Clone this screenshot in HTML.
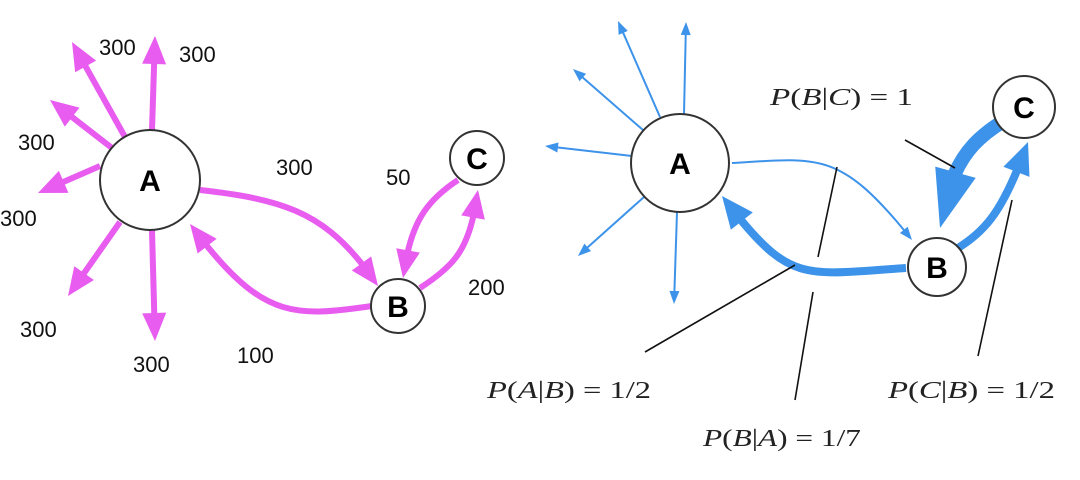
<!DOCTYPE html>
<html><head><meta charset="utf-8"><style>
html,body{margin:0;padding:0;background:#fff;width:1080px;height:480px;overflow:hidden}
svg{display:block}
.n{font-family:"Liberation Sans",sans-serif;font-size:22px;fill:#111}
.L{font-family:"Liberation Sans",sans-serif;font-weight:bold;font-size:30px;fill:#000;text-anchor:middle}
.m{font-family:"Liberation Serif",serif;font-size:24px;fill:#222}
</style></head><body>
<svg id="s" width="1080" height="480" viewBox="0 0 1080 480">
<g id="arrows" fill="none" stroke-linecap="butt">
<g stroke="#e85cf0" stroke-width="6" data-c="#e85cf0">
<path class="a" data-h="28" data-w="12" d="M125,137 L72,42"/>
<path class="a" data-h="28" data-w="12" d="M152,130 L155,36"/>
<path class="a" data-h="28" data-w="12" d="M112,148 L50,100"/>
<path class="a" data-h="28" data-w="12" d="M100,166 L38,193"/>
<path class="a" data-h="28" data-w="12" d="M120,222 L68,296"/>
<path class="a" data-h="28" data-w="12" d="M152,230 L155,341"/>
<path class="a" data-h="28" data-w="12" d="M200,190 C290,200 330,215 378,286"/>
<path class="a" data-h="28" data-w="12" d="M372,306 C290,318 260,318 190,224"/>
<path class="a" data-h="28" data-w="12" d="M458,180 C420,205 410,230 403,278"/>
<path class="a" data-h="28" data-w="12" d="M420,288 C460,262 470,245 478,190"/>
</g>
<g stroke="#3d93ea" data-c="#3d93ea">
<g stroke-width="2">
<path class="a" data-h="13" data-w="5" d="M660,117 L618,21"/>
<path class="a" data-h="13" data-w="5" d="M684,114 L686,22"/>
<path class="a" data-h="13" data-w="5" d="M643,130 L573,69"/>
<path class="a" data-h="13" data-w="5" d="M632,156 L545,146"/>
<path class="a" data-h="13" data-w="5" d="M644,197 L578,256"/>
<path class="a" data-h="13" data-w="5" d="M677,212 L674,304"/>
<path class="a" data-h="13" data-w="5" d="M732,163 C820,158 840,150 912,240"/>
</g>
<path class="a" data-h="32" data-w="14" stroke-width="8" d="M906,268 C800,275 790,285 722,196"/>
<path class="a" data-h="32" data-w="14" stroke-width="8" d="M958,248 C990,228 1005,205 1028,142"/>
<path class="a" data-h="58" data-w="21" stroke-width="14" d="M1002,122 C965,145 950,170 940,228"/>
</g>
</g>
<g fill="#fff" stroke="#333" stroke-width="2">
<circle cx="150" cy="180" r="50"/><circle cx="477" cy="158" r="27"/><circle cx="398" cy="306" r="27"/>
</g>
<text class="L" x="150" y="191">A</text>
<text class="L" x="477" y="169" font-size="26">C</text>
<text class="L" x="398" y="317" font-size="26">B</text>
<g class="n">
<text x="99" y="55">300</text><text x="179" y="62">300</text><text x="18" y="150">300</text>
<text x="0" y="226">300</text><text x="20" y="337">300</text><text x="133" y="372">300</text>
<text x="276" y="175">300</text><text x="386" y="185">50</text><text x="468" y="295">200</text><text x="237" y="363">100</text>
</g>
<g fill="#fff" stroke="#333" stroke-width="2">
<circle cx="680" cy="163" r="49"/><circle cx="937" cy="267" r="29"/><circle cx="1024" cy="107" r="31"/>
</g>
<text class="L" x="680" y="174" font-size="28">A</text>
<text class="L" x="937" y="278" font-size="26">B</text>
<text class="L" x="1024" y="118" font-size="26">C</text>
<g stroke="#111" stroke-width="1.6">
<line x1="905" y1="140" x2="955" y2="168"/>
<line x1="837" y1="167" x2="818" y2="257"/>
<line x1="813" y1="292" x2="795" y2="400"/>
<line x1="795" y1="265" x2="645" y2="352"/>
<line x1="1012" y1="200" x2="978" y2="356"/>
</g>
<g class="m">
<text x="770" y="105" textLength="143" lengthAdjust="spacingAndGlyphs"><tspan font-style="italic">P</tspan>(<tspan font-style="italic">B</tspan>|<tspan font-style="italic">C</tspan>) = 1</text>
<text x="487" y="398" textLength="164" lengthAdjust="spacingAndGlyphs"><tspan font-style="italic">P</tspan>(<tspan font-style="italic">A</tspan>|<tspan font-style="italic">B</tspan>) = 1/2</text>
<text x="703" y="446" textLength="158" lengthAdjust="spacingAndGlyphs"><tspan font-style="italic">P</tspan>(<tspan font-style="italic">B</tspan>|<tspan font-style="italic">A</tspan>) = 1/7</text>
<text x="888" y="398" textLength="167" lengthAdjust="spacingAndGlyphs"><tspan font-style="italic">P</tspan>(<tspan font-style="italic">C</tspan>|<tspan font-style="italic">B</tspan>) = 1/2</text>
</g>
</svg>
<script>
(function(){
var NS="http://www.w3.org/2000/svg";
var g=document.getElementById("arrows");
document.querySelectorAll("path.a").forEach(function(p){
  var L=p.getTotalLength(),h=+p.getAttribute("data-h"),w=+p.getAttribute("data-w");
  var t=p.getPointAtLength(L),b=p.getPointAtLength(Math.max(0,L-h));
  var dx=t.x-b.x,dy=t.y-b.y,d=Math.hypot(dx,dy)||1,nx=-dy/d,ny=dx/d;
  var c=p.closest("[data-c]").getAttribute("data-c");
  p.setAttribute("stroke-dasharray",(L-h+2)+" "+(L+10));
  var poly=document.createElementNS(NS,"polygon");
  poly.setAttribute("points",t.x+","+t.y+" "+(b.x+nx*w)+","+(b.y+ny*w)+" "+(b.x-nx*w)+","+(b.y-ny*w));
  poly.setAttribute("fill",c);poly.setAttribute("stroke","none");
  g.appendChild(poly);
});
})();
</script>
</body></html>
